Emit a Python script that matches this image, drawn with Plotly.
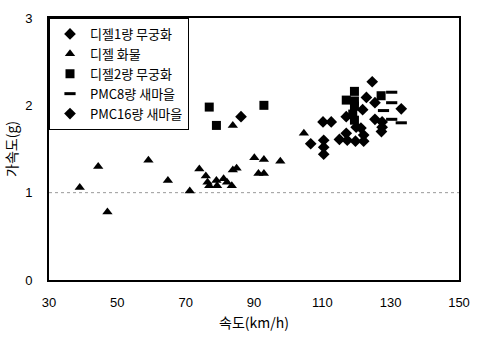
import plotly.graph_objects as go

# 디젤1량 무궁화
d1_x = [86.2, 106.6, 110.2, 112.6, 110.4, 110.4, 110.4, 115.0, 117.0, 117.3, 117.0, 119.7, 119.9, 121.3]
d1_y = [1.87, 1.56, 1.81, 1.81, 1.60, 1.52, 1.44, 1.61, 1.68, 1.60, 1.87, 1.59, 1.75, 1.74]
# 디젤 화물
fr_x = [39.0, 44.4, 47.1, 59.1, 64.8, 71.2, 74.0, 75.9, 76.4, 76.9, 79.0, 79.2, 81.1, 82.1, 83.5,
        83.8, 84.9, 83.8, 90.1, 92.9, 91.3, 92.9, 97.7, 104.6]
fr_y = [1.06, 1.30, 0.78, 1.37, 1.14, 1.02, 1.27, 1.19, 1.12, 1.08, 1.14, 1.08, 1.16, 1.12, 1.08,
        1.26, 1.28, 1.77, 1.40, 1.38, 1.22, 1.22, 1.36, 1.68]
# 디젤2량 무궁화
d2_x = [76.9, 79.0, 92.9, 119.4, 117.0, 119.4, 119.4, 118.9, 119.4, 127.2]
d2_y = [1.98, 1.77, 2.00, 2.16, 2.06, 2.05, 1.99, 1.90, 1.83, 2.11]
# PMC8량 새마을
p8_x = [130.3, 130.3, 127.9, 130.3, 133.1]
p8_y = [2.15, 2.03, 1.94, 1.84, 1.80]
# PMC16량 새마을
p16_x = [124.6, 122.9, 125.4, 133.1, 121.8, 125.4, 127.5, 127.5, 127.3, 122.1, 122.1]
p16_y = [2.27, 2.09, 2.03, 1.96, 1.95, 1.84, 1.81, 1.75, 1.70, 1.66, 1.59]

x_ticks = [30, 50, 70, 90, 110, 130, 150]
y_ticks = [0, 1, 2, 3]

fig = go.Figure()
fig.add_trace(go.Scatter(x=d1_x, y=d1_y, mode="markers", name="디젤1량 무궁화",
                         marker=dict(symbol="diamond", size=9, color="black")))
fig.add_trace(go.Scatter(x=fr_x, y=fr_y, mode="markers", name="디젤 화물",
                         marker=dict(symbol="triangle-up", size=9, color="black")))
fig.add_trace(go.Scatter(x=d2_x, y=d2_y, mode="markers", name="디젤2량 무궁화",
                         marker=dict(symbol="square", size=9, color="black")))
fig.add_trace(go.Scatter(x=p8_x, y=p8_y, mode="markers", name="PMC8량 새마을",
                         marker=dict(symbol="line-ew", size=8, color="black",
                                     line=dict(color="black", width=3))))
fig.add_trace(go.Scatter(x=p16_x, y=p16_y, mode="markers", name="PMC16량 새마을",
                         marker=dict(symbol="diamond", size=9, color="black")))

fig.add_shape(type="line", xref="paper", yref="y", x0=0, x1=1, y0=1, y1=1,
              line=dict(color="#999999", width=1, dash="dot"), layer="below")

font_main = "Liberation Sans, Arial, Noto Sans CJK KR, sans-serif"
kr_font = "Noto Sans CJK KR, Liberation Sans, sans-serif"
fig.update_layout(
    width=481, height=342,
    margin=dict(l=47, r=11, t=12, b=62),
    paper_bgcolor="white", plot_bgcolor="white",
    font=dict(family=font_main, size=14, color="black"),
    showlegend=True,
    legend=dict(x=0, y=1, xanchor="left", yanchor="top",
                bordercolor="black", borderwidth=1, bgcolor="white",
                font=dict(size=13, family=kr_font),
                itemwidth=30, tracegroupgap=0),
    xaxis=dict(range=[30, 150], tickvals=x_ticks, ticktext=[str(v) for v in x_ticks],
               showgrid=False, zeroline=False, showline=True, linecolor="black", linewidth=2,
               mirror=True, ticks="", ticklabelstandoff=9, ticklabeloverflow="allow",
               tickfont=dict(size=13),
               title=dict(text="속도(km/h)", font=dict(family=kr_font, size=14), standoff=10)),
    yaxis=dict(range=[0, 3], tickvals=y_ticks, ticktext=[str(v) for v in y_ticks],
               showgrid=False, zeroline=False, showline=True, linecolor="black", linewidth=2,
               mirror=True, ticks="", ticklabelstandoff=12, tickfont=dict(size=13),
               title=dict(text="가속도(g)", font=dict(family=kr_font, size=14), standoff=4)),
)

fig.write_html("out.html", config={"displayModeBar": False},
               post_script="document.body.style.margin='0';document.body.style.overflow='hidden';")
